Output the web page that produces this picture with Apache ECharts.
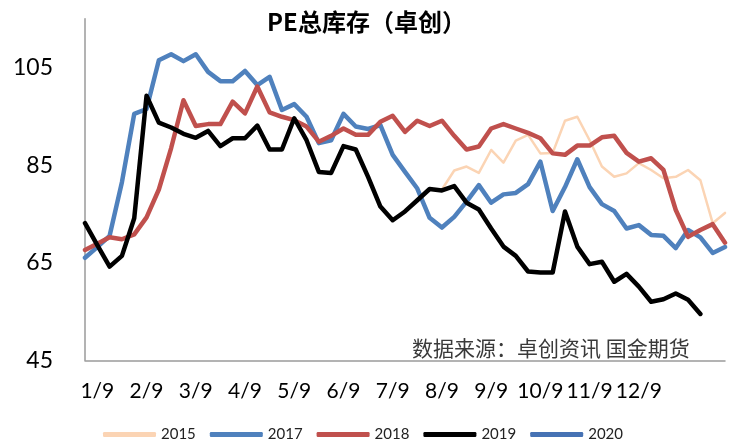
<!DOCTYPE html>
<html><head><meta charset="utf-8">
<script src="https://cdn.jsdelivr.net/npm/echarts@6/dist/echarts.min.js"></script>
<style>html,body{margin:0;padding:0;background:#fff}#c{width:733px;height:443px}</style>
</head><body><div id="c"></div>
<script>
const monthLabels = ['1/9','2/9','3/9','4/9','5/9','6/9','7/9','8/9','9/9','10/9','11/9','12/9'];
const weekCount = 53;
const yTicks = [45, 65, 85, 105];

const s2015 = [null,null,null,null,null,null,null,null,null,null,null,null,null,null,null,null,null,null,null,null,null,null,null,null,null,null,null,null,null,
  80.0,83.9,84.7,83.4,88.1,85.5,90.0,91.2,87.4,87.5,94.1,94.9,90.1,84.7,82.6,83.3,85.4,84.0,82.3,82.6,84.0,81.9,73.1,75.2];
const s2017 = [66,68.2,70.5,81.5,95.5,96.5,106.5,107.7,106.3,107.7,104.1,102.2,102.2,104.3,101.4,103.1,96.3,97.5,94.9,89.5,90.1,95.5,92.9,92.4,93.2,87.1,83.6,80.2,74.2,72.2,74.4,77.5,80.9,77.3,79.0,79.3,81.1,85.7,75.6,80.5,86.2,80.5,77.0,75.6,72.0,72.7,70.7,70.5,68.0,71.7,70.2,67.0,68.2];
const s2018 = [67.6,68.9,70.2,69.8,70.8,74.3,80,88.5,98.3,93.0,93.4,93.4,98.0,95.6,101.1,95.8,94.9,94.2,92.9,89.8,91.0,92.5,91.2,91.2,93.9,95.1,91.8,94.1,93.0,94.1,91.0,88.2,88.8,92.5,93.4,92.5,91.6,90.5,87.4,87.1,89.0,89.0,90.7,91.0,87.5,85.7,86.4,84.0,75.8,70.3,71.7,72.9,69.1];
const s2019 = [73.1,68.6,64.2,66.4,74.1,99.2,93.7,92.7,91.4,90.6,92.0,88.9,90.5,90.5,93.1,88.2,88.2,94.6,90.1,83.6,83.4,88.9,88.2,82.6,76.5,73.7,75.5,77.8,80.1,79.8,80.7,77.3,75.9,72.0,68.3,66.4,63.2,63.0,63.0,75.5,68.3,64.7,65.2,61.1,62.7,60.1,57.0,57.5,58.7,57.4,54.5,null,null];
const s2020 = [];

const categories = Array.from({length: weekCount}, (_, i) =>
  ((i - 1) % 4 === 0 && (i - 1) / 4 < monthLabels.length) ? monthLabels[(i - 1) / 4] : '');

const chart = echarts.init(document.getElementById('c'), null, {renderer: 'canvas'});
function line(name, data, color, width, z) {
  return {
    name, type: 'line', data, symbol: 'none', showSymbol: false, z,
    legendIcon: 'roundRect',
    connectNulls: false, animation: false,
    lineStyle: {color, width, cap: 'round', join: 'round'},
    itemStyle: {color}
  };
}
chart.setOption({
  animation: false,
  backgroundColor: '#ffffff',
  title: {
    text: 'PE总库存（卓创）', left: 'center', top: 5,
    textStyle: {fontFamily: 'Noto Sans CJK SC', fontWeight: 'bold', fontSize: 24, color: '#000'}
  },
  grid: {left: 85, right: 8, top: 18.7, bottom: 82.7, containLabel: false},
  xAxis: {
    type: 'category', data: categories, boundaryGap: false,
    axisLine: {lineStyle: {color: '#9a9a9a', width: 1.5}},
    axisTick: {show: false},
    axisLabel: {interval: 0, margin: 20, fontFamily: 'Lato', fontSize: 21, color: '#000'},
    splitLine: {show: false}
  },
  yAxis: {
    type: 'value', min: 45, max: 115, interval: 20,
    axisLine: {show: true, lineStyle: {color: '#9a9a9a', width: 1.5}},
    axisTick: {show: false},
    splitLine: {show: false},
    axisLabel: {
      showMaxLabel: false, margin: 32, fontFamily: 'Lato', fontSize: 23, color: '#000',
      formatter: v => yTicks.includes(v) ? String(v) : ''
    }
  },
  legend: {
    left: 98, top: 422, itemWidth: 53, itemHeight: 5, itemGap: 14,
    icon: 'roundRect',
    textStyle: {fontFamily: 'Lato', fontSize: 15, color: '#222'},
    data: ['2015','2017','2018','2019','2020']
  },
  graphic: [{
    type: 'text', left: 412, top: 338,
    style: {text: '数据来源：卓创资讯 国金期货', fontFamily: 'Noto Sans CJK SC', fontSize: 21, fill: '#3a3a3a'}
  }],
  series: [
    line('2015', s2015, '#FBD4B4', 2.5, 1),
    line('2017', s2017, '#4F81BD', 4.5, 2),
    line('2018', s2018, '#C0504D', 4.5, 3),
    line('2019', s2019, '#000000', 4.5, 4),
    line('2020', s2020, '#4672B4', 4.5, 5)
  ]
});
</script>
</body></html>
